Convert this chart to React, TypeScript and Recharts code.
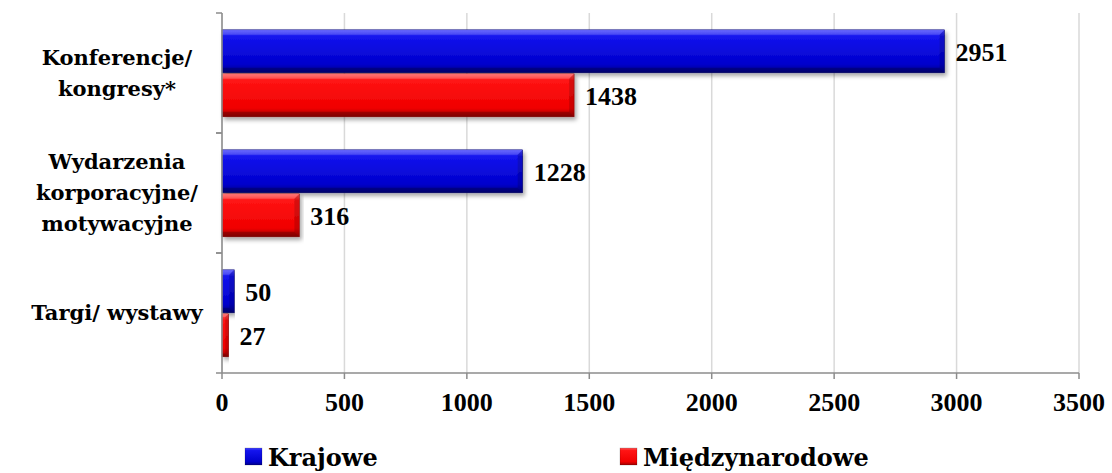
import { BarChart, Bar, XAxis, YAxis, CartesianGrid, Legend, LabelList } from 'recharts'

const categories = ['Konferencje/\nkongresy*', 'Wydarzenia\nkorporacyjne/\nmotywacyjne', 'Targi/ wystawy']
const krajowe = [2951, 1228, 50]
const miedzynarodowe = [1438, 316, 27]
const xTicks = [0, 500, 1000, 1500, 2000, 2500, 3000, 3500]

const data = categories.map((name, i) => ({
  name,
  krajowe: krajowe[i],
  miedzynarodowe: miedzynarodowe[i],
}))

const NUM_FONT = '"Liberation Serif", "Times New Roman", serif'
const TXT_FONT = '"DejaVu Serif", serif'
const AXIS = '#8c8c8c'

// category label, plus the small tick marks at the band edges
function CategoryTick({ x, y, payload }: any) {
  const lines = String(payload.value).split('\n')
  const lh = 31
  const start = y - ((lines.length - 1) * lh) / 2
  const half = Number(payload.offset) || 0
  return (
    <g>
      {half > 0 && (
        <>
          <line x1={x + 2} x2={x + 8} y1={y - half} y2={y - half} stroke={AXIS} strokeWidth={1.5} />
          <line x1={x + 2} x2={x + 8} y1={y + half} y2={y + half} stroke={AXIS} strokeWidth={1.5} />
        </>
      )}
      <text textAnchor="middle" fontFamily={TXT_FONT} fontWeight="bold" fontSize={21} fill="#000">
        {lines.map((l, i) => (
          <tspan key={i} x={x - 97} y={start + i * lh} dy="0.35em">
            {l}
          </tspan>
        ))}
      </text>
    </g>
  )
}

// bevelled bar, like the office "3d" style
function BevelBar({ x, y, width, height, fill, stroke }: any) {
  if (!width || !height) return null
  const b = Math.min(5, width / 2, height / 2)
  const r = x + width
  const bt = y + height
  return (
    <g filter="url(#shadow)">
      <rect x={x} y={y} width={width} height={height} fill={fill} stroke={stroke} strokeWidth={0.5} />
      <polygon points={`${x},${y} ${r},${y} ${r - b},${y + b} ${x},${y + b}`} fill="#fff" opacity={0.18} />
      <polygon points={`${r},${y} ${r},${bt} ${r - b},${bt - b} ${r - b},${y + b}`} fill="#000" opacity={0.15} />
      <polygon points={`${x},${bt} ${r},${bt} ${r - b},${bt - b} ${x},${bt - b}`} fill="#000" opacity={0.22} />
    </g>
  )
}

function LegendBox() {
  const items = [
    { label: 'Krajowe', grad: 'url(#gBlue)', left: 245 },
    { label: 'Międzynarodowe', grad: 'url(#gRed)', left: 620 },
  ]
  return (
    <svg width={1112} height={55} style={{ display: 'block' }}>
      {items.map((it) => (
        <g key={it.label}>
          <rect x={it.left} y={30} width={17} height={17} fill={it.grad} stroke="#00000055" strokeWidth={0.5} />
          <text x={it.left + 23} y={48} fontFamily={TXT_FONT} fontWeight="bold" fontSize={24} fill="#000">
            {it.label}
          </text>
        </g>
      ))}
    </svg>
  )
}

export default function App() {
  return (
    <div style={{ position: 'fixed', top: 0, left: 0, background: '#fff' }}>
      <BarChart
        width={1112}
        height={473}
        data={data}
        layout="vertical"
        margin={{ top: 13, right: 33, left: 0, bottom: 0 }}
        barCategoryGap="14%"
        barGap={1}
      >
        <defs>
          <linearGradient id="gBlue" x1="0" y1="0" x2="0" y2="1">
            <stop offset="0%" stopColor="#4848ff" />
            <stop offset="15%" stopColor="#1414ee" />
            <stop offset="80%" stopColor="#0000cc" />
            <stop offset="100%" stopColor="#000088" />
          </linearGradient>
          <linearGradient id="gRed" x1="0" y1="0" x2="0" y2="1">
            <stop offset="0%" stopColor="#ff5a5a" />
            <stop offset="15%" stopColor="#ff1414" />
            <stop offset="80%" stopColor="#f00000" />
            <stop offset="100%" stopColor="#a00000" />
          </linearGradient>
          <filter id="shadow" x="-5%" y="-20%" width="110%" height="150%">
            <feDropShadow dx="2" dy="3" stdDeviation="2" floodColor="#000" floodOpacity="0.35" />
          </filter>
        </defs>
        <CartesianGrid horizontal={false} stroke="#d9d9d9" strokeWidth={1.5} />
        <XAxis
          type="number"
          domain={[0, 3500]}
          ticks={xTicks}
          interval={0}
          height={45}
          axisLine={{ stroke: AXIS, strokeWidth: 1.5 }}
          tickLine={{ stroke: AXIS, strokeWidth: 1.5 }}
          tickSize={6}
          tickMargin={14}
          tick={{ fontFamily: NUM_FONT, fontWeight: 'bold', fontSize: 26, fill: '#000' }}
        />
        <YAxis
          type="category"
          dataKey="name"
          width={222}
          axisLine={{ stroke: AXIS, strokeWidth: 1.5 }}
          tickLine={false}
          tick={<CategoryTick />}
        />
        <Legend verticalAlign="bottom" height={55} content={() => <LegendBox />} />
        <Bar
          dataKey="krajowe"
          name="Krajowe"
          fill="url(#gBlue)"
          stroke="#00006a"
          shape={<BevelBar />}
          isAnimationActive={false}
        >
          <LabelList
            dataKey="krajowe"
            position="right"
            offset={11}
            style={{ fontFamily: NUM_FONT, fontWeight: 'bold', fontSize: 26, fill: '#000' }}
          />
        </Bar>
        <Bar
          dataKey="miedzynarodowe"
          name="Międzynarodowe"
          fill="url(#gRed)"
          stroke="#8a0000"
          shape={<BevelBar />}
          isAnimationActive={false}
        >
          <LabelList
            dataKey="miedzynarodowe"
            position="right"
            offset={11}
            style={{ fontFamily: NUM_FONT, fontWeight: 'bold', fontSize: 26, fill: '#000' }}
          />
        </Bar>
      </BarChart>
    </div>
  )
}
